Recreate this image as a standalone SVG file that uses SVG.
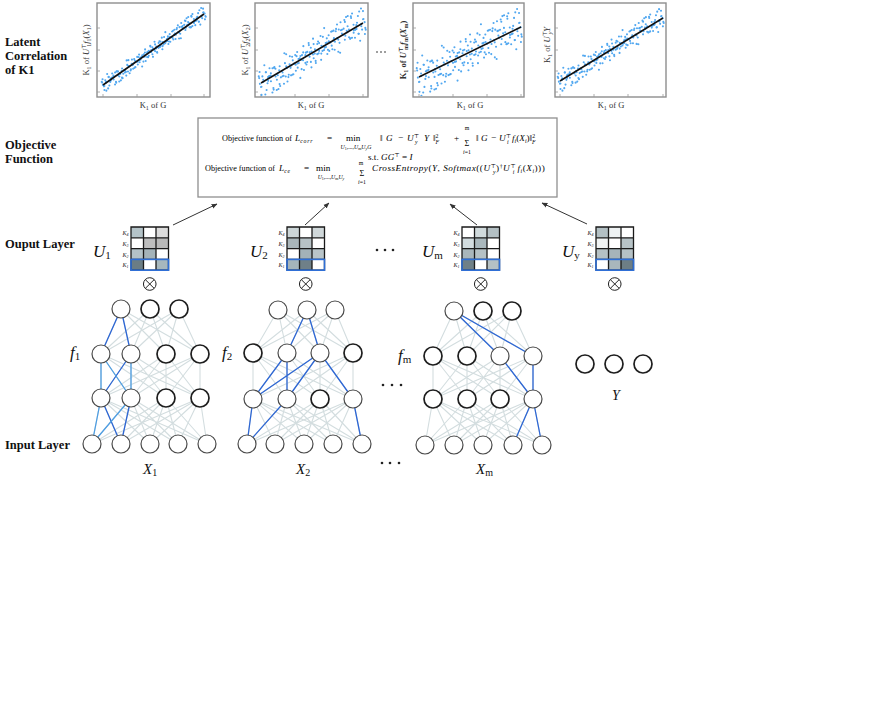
<svg xmlns="http://www.w3.org/2000/svg" xmlns:xlink="http://www.w3.org/1999/xlink" width="895" height="722" viewBox="0 0 895 722">
<style>
.lbl{font-family:"Liberation Serif",serif;font-weight:bold;font-size:12.5px;fill:#111}
.m{font-family:"Liberation Serif","DejaVu Serif",serif;font-size:8.2px;fill:#000}
.mx{font-size:9.2px}
.ax{font-family:"Liberation Serif","DejaVu Serif",serif;font-size:8.5px;fill:#333}
.i{font-style:italic}
.s{font-size:5.8px}
.ss{font-size:6px}
.v{font-family:"Liberation Serif","DejaVu Serif",serif;font-style:italic;fill:#111}
.sub{font-style:normal}
.kl{font-family:"Liberation Serif",serif;font-style:italic;font-size:6px;fill:#222}
.g{stroke:#d3dddf;stroke-width:1.1;fill:none}
.b{stroke:#2e67d4;stroke-width:1.3;fill:none}
.bl{stroke:#4f9ee2;stroke-width:1.3;fill:none}
.n{fill:#fff;stroke:#4a4a4a;stroke-width:1.2}
.nd{fill:#fff;stroke:#1e1e1e;stroke-width:1.7}
.frame{fill:#fff;stroke:#8e8e8e;stroke-width:1.4}
.tick{stroke:#999;stroke-width:0.8}
.reg{stroke:#111;stroke-width:1.6}
.grid{fill:none;stroke:#1a1a1a;stroke-width:1.3}
.k1{fill:none;stroke:#2f6fd6;stroke-width:1.6}
.ot{fill:#fff;stroke:#222;stroke-width:1}
.arr{stroke:#333;stroke-width:1;marker-end:url(#ah)}
.dot{fill:#222}
.cl{fill:none;stroke:#52a8f0;stroke-width:2.1;stroke-linecap:round}
</style>
<defs>
<marker id="ah" viewBox="0 0 10 10" refX="9" refY="5" markerWidth="6" markerHeight="6" orient="auto"><path d="M0 1L10 5L0 9z" fill="#333"/></marker>
<path id="cloud" vector-effect="non-scaling-stroke" d="M0.7 -4h0M1.1 -3h0M2.8 2h0M3.2 2h0M4.8 -1h0M5.1 8h0M6.8 7h0M7.2 -4h0M8.8 2h0M9.4 1h0M10.5 -1h0M11.9 -2h0M12 2h0M13.4 -4h0M14.5 7h0M15.2 -4h0M16.3 1h0M17.5 3h0M18.3 1h0M19.6 -1h0M20 6h0M21.2 3h0M22.8 3h0M23.7 3h0M24.4 -8h0M25.7 4h0M26.1 -7h0M27.3 7h0M28.5 4h0M29.2 -1h0M30.6 5h0M31.6 -4h0M32.2 -2h0M33.4 0h0M34.9 1h0M35.7 -3h0M36.7 1h0M37.5 -1h0M38.7 -1h0M39.2 9h0M40.4 5h0M41.7 1h0M42 -6h0M43.9 3h0M44.3 -2h0M45.6 -2h0M46.9 -6h0M47.9 -1h0M48.9 -3h0M49.5 7h0M50.9 1h0M51.5 -4h0M52.7 -1h0M53.4 5h0M54.9 -3h0M55.6 -4h0M56.6 1h0M57.9 -6h0M58.6 3h0M59.7 2h0M60.6 0h0M61.2 2h0M62.7 -1h0M63.7 -3h0M64.2 5h0M65.4 -4h0M66 4h0M67.7 -5h0M68.6 -5h0M69.6 0h0M70.3 -1h0M71 5h0M72.3 -5h0M73.5 0h0M74.3 1h0M75.5 3h0M76.4 -7h0M77.7 -1h0M78.5 0h0M79.9 -7h0M80.4 3h0M81.5 -8h0M82.7 0h0M83.1 -8h0M84.3 3h0M85.8 4h0M86.2 -6h0M87.1 -8h0M88.7 1h0M89.8 5h0M90.5 1h0M91.2 1h0M92.5 -5h0M93.1 4h0M94.6 8h0M95.6 0h0M96.4 3h0M97.2 -6h0M98.7 0h0M99 6h0"/>
<clipPath id="c1"><rect x="98" y="4" width="111" height="92"/></clipPath>
<clipPath id="c2"><rect x="256" y="4" width="111" height="92"/></clipPath>
<clipPath id="c3"><rect x="414" y="4" width="109" height="92"/></clipPath>
<clipPath id="c4"><rect x="556" y="4" width="109" height="92"/></clipPath>
</defs>
<rect width="895" height="722" fill="#fff"/>

<!-- left labels -->
<g id="labels">
<text class="lbl" x="5" y="46">Latent</text>
<text class="lbl" x="5" y="60">Correlation</text>
<text class="lbl" x="5" y="74">of K1</text>
<text class="lbl" x="5" y="149">Objective</text>
<text class="lbl" x="5" y="163">Function</text>
<text class="lbl" x="5" y="248">Ouput Layer</text>
<text class="lbl" x="5" y="449">Input Layer</text>
</g>

<!-- scatter plots -->
<g id="plot1">
<rect class="frame" x="97" y="3" width="113" height="94"/>
<path class="tick" d="M97 28h3M97 50h3M97 71h3M97 92h3M103 97v-3M137 97v-3M171 97v-3M204 97v-3"/>
<g clip-path="url(#c1)" class="cl">
<use xlink:href="#cloud" transform="matrix(1.05,-0.738,0,1,101,86.4)"/>
<use xlink:href="#cloud" transform="matrix(-1.05,0.738,0,-1,206.5,12.2)"/>
</g>
<line class="reg" x1="103" y1="85" x2="204" y2="14"/>
<text class="ax" transform="translate(89,50) rotate(-90)" text-anchor="middle">K<tspan class="ss" dy="1.5">1</tspan><tspan dy="-1.5">  of  </tspan><tspan class="i">U</tspan><tspan class="ss" dy="-3">⊤</tspan><tspan class="ss" dx="-3.5" dy="4.5">1</tspan><tspan class="i" dy="-1.5">f</tspan><tspan class="ss" dy="1.5">1</tspan><tspan dy="-1.5">(</tspan><tspan class="i">X</tspan><tspan class="ss" dy="1.5">1</tspan><tspan dy="-1.5">)</tspan></text>
<text class="ax" x="153" y="108" text-anchor="middle">K<tspan class="ss" dy="1.5">1</tspan><tspan dy="-1.5">  of  G</tspan></text>
</g>
<g id="plot2">
<rect class="frame" x="255" y="3" width="113" height="94"/>
<path class="tick" d="M255 28h3M255 50h3M255 71h3M255 92h3M261 97v-3M295 97v-3M329 97v-3M363 97v-3"/>
<g clip-path="url(#c2)" class="cl">
<use xlink:href="#cloud" transform="matrix(1.08,-0.635,0,2,258,84.8)"/>
<use xlink:href="#cloud" transform="matrix(-1.08,0.635,0,-2,366.5,21.2)"/>
</g>
<line class="reg" x1="261" y1="83" x2="363" y2="23"/>
<text class="ax" transform="translate(248,50) rotate(-90)" text-anchor="middle">K<tspan class="ss" dy="1.5">1</tspan><tspan dy="-1.5">  of  </tspan><tspan class="i">U</tspan><tspan class="ss" dy="-3">⊤</tspan><tspan class="ss" dx="-3.5" dy="4.5">2</tspan><tspan class="i" dy="-1.5">f</tspan><tspan class="ss" dy="1.5">2</tspan><tspan dy="-1.5">(</tspan><tspan class="i">X</tspan><tspan class="ss" dy="1.5">2</tspan><tspan dy="-1.5">)</tspan></text>
<text class="ax" x="311" y="108" text-anchor="middle">K<tspan class="ss" dy="1.5">1</tspan><tspan dy="-1.5">  of  G</tspan></text>
</g>
<g id="dots-top">
<circle class="dot" cx="377" cy="52" r="0.8"/><circle class="dot" cx="381" cy="52" r="0.8"/><circle class="dot" cx="385" cy="52" r="0.8"/>
</g>
<g id="plot3">
<rect class="frame" x="413" y="3" width="111" height="94"/>
<path class="tick" d="M413 28h3M413 50h3M413 71h3M413 92h3M419 97v-3M453 97v-3M487 97v-3M521 97v-3"/>
<g clip-path="url(#c3)" class="cl">
<use xlink:href="#cloud" transform="matrix(1.06,-0.52,0,2.5,416,78.5)"/>
<use xlink:href="#cloud" transform="matrix(-1.06,0.52,0,-2.5,522.5,26.3)"/>
</g>
<line class="reg" x1="419" y1="77" x2="521" y2="27"/>
<text class="ax" transform="translate(406,50) rotate(-90)" text-anchor="middle" font-weight="bold">K<tspan class="ss" dy="1.5">1</tspan><tspan dy="-1.5">  of  </tspan><tspan class="i">U</tspan><tspan class="ss" dy="-3">⊤</tspan><tspan class="ss" dx="-3.5" dy="4.5">m</tspan><tspan class="i" dy="-1.5">f</tspan><tspan class="ss" dy="1.5">m</tspan><tspan dy="-1.5">(</tspan><tspan class="i">X</tspan><tspan class="ss" dy="1.5">m</tspan><tspan dy="-1.5">)</tspan></text>
<text class="ax" x="470" y="108" text-anchor="middle">K<tspan class="ss" dy="1.5">1</tspan><tspan dy="-1.5">  of  G</tspan></text>
</g>
<g id="plot4">
<rect class="frame" x="555" y="3" width="111" height="94"/>
<path class="tick" d="M555 28h3M555 50h3M555 71h3M555 92h3M560 97v-3M594 97v-3M628 97v-3M663 97v-3"/>
<g clip-path="url(#c4)" class="cl">
<use xlink:href="#cloud" transform="matrix(1.07,-0.655,0,1.4,557,82.8)"/>
<use xlink:href="#cloud" transform="matrix(-1.07,0.655,0,-1.4,664.5,17)"/>
</g>
<line class="reg" x1="560" y1="81" x2="663" y2="18"/>
<text class="ax" transform="translate(550,45) rotate(-90)" text-anchor="middle">K<tspan class="ss" dy="1.5">1</tspan><tspan dy="-1.5">  of  </tspan><tspan class="i">U</tspan><tspan class="ss" dy="-3">⊤</tspan><tspan class="ss i" dx="-3.5" dy="4.5">y</tspan><tspan class="i" dy="-1.5">Y</tspan></text>
<text class="ax" x="611" y="108" text-anchor="middle">K<tspan class="ss" dy="1.5">1</tspan><tspan dy="-1.5">  of  G</tspan></text>
</g>

<!-- objective box -->
<g id="objective">
<rect x="198" y="118" width="359" height="79" fill="#fff" stroke="#8f8f8f" stroke-width="1.3"/>
<text class="m" x="222" y="141">Objective function of <tspan class="i mx" x="295">L</tspan><tspan class="s i" dy="1.5" letter-spacing="0.8">corr</tspan><tspan class="mx" dy="-1.5" x="327">=</tspan><tspan class="mx" x="346">min</tspan></text>
<text class="m s" x="356" y="149" text-anchor="middle"><tspan class="i">U</tspan><tspan font-size="4" dy="1">1</tspan><tspan dy="-1">,...,</tspan><tspan class="i">U</tspan><tspan font-size="4" dy="1">m</tspan><tspan class="i" dy="-1">U</tspan><tspan font-size="4" dy="1" class="i">y</tspan><tspan class="i" dy="-1">G</tspan></text>
<text class="m mx" x="380" y="141">‖<tspan class="i" x="386">G</tspan><tspan x="398">−</tspan><tspan class="i" x="407">U</tspan><tspan class="s" dy="-3.5">⊤</tspan><tspan class="s i" dx="-4" dy="6">y</tspan><tspan class="i" x="424" dy="-2.5">Y</tspan><tspan x="433">‖</tspan><tspan class="s" dy="-3.5">2</tspan><tspan class="s i" dx="-3" dy="6">F</tspan><tspan x="454" dy="-2.5">+</tspan></text>
<text class="m" x="467" y="146" text-anchor="middle" font-size="13">Σ</text>
<text class="m s" x="467" y="130" text-anchor="middle">m</text>
<text class="m s" x="467" y="154" text-anchor="middle"><tspan class="i">i</tspan>=1</text>
<text class="m mx" x="476" y="141">‖<tspan class="i" x="481">G</tspan><tspan x="491">−</tspan><tspan class="i" x="499">U</tspan><tspan class="s" dy="-3.5">⊤</tspan><tspan class="s i" dx="-4" dy="6">i</tspan><tspan class="i" x="512" dy="-2.5">f</tspan><tspan class="s i" dy="1.5">i</tspan><tspan dy="-1.5">(</tspan><tspan class="i">X</tspan><tspan class="s i" dy="1.5">i</tspan><tspan dy="-1.5">)‖</tspan><tspan class="s" dy="-3.5">2</tspan><tspan class="s i" dx="-3" dy="6">F</tspan></text>
<text class="m mx" x="368" y="160">s.t. <tspan class="i">GG</tspan><tspan class="s" dy="-3.5">⊤</tspan><tspan dy="3.5"> = </tspan><tspan class="i">I</tspan></text>
<text class="m" x="205" y="171">Objective function of <tspan class="i mx" x="279">L</tspan><tspan class="s i" dy="1.5" letter-spacing="0.8">ce</tspan><tspan class="mx" dy="-1.5" x="304">=</tspan><tspan class="mx" x="316">min</tspan></text>
<text class="m s" x="331" y="179" text-anchor="middle"><tspan class="i">U</tspan><tspan font-size="4" dy="1">1</tspan><tspan dy="-1">,...,</tspan><tspan class="i">U</tspan><tspan font-size="4" dy="1">m</tspan><tspan class="i" dy="-1">U</tspan><tspan font-size="4" dy="1" class="i">y</tspan></text>
<text class="m" x="362" y="176" text-anchor="middle" font-size="13">Σ</text>
<text class="m s" x="361" y="165" text-anchor="middle">m</text>
<text class="m s" x="362" y="184" text-anchor="middle"><tspan class="i">i</tspan>=1</text>
<text class="m mx" x="372" y="171" letter-spacing="0.5"><tspan class="i">CrossEntropy</tspan>(<tspan class="i">Y</tspan>, <tspan class="i">Softmax</tspan>((<tspan class="i">U</tspan><tspan class="s" dy="-3">⊤</tspan><tspan class="s i" dx="-3.5" dy="5.5">y</tspan><tspan dy="-2.5">)</tspan><tspan class="s" dy="-3">†</tspan><tspan class="i" dy="3">U</tspan><tspan class="s" dy="-3">⊤</tspan><tspan class="s i" dx="-3.5" dy="5.5">i</tspan><tspan class="i" dy="-2.5"> f</tspan><tspan class="s i" dy="1.5">i</tspan><tspan dy="-1.5">(</tspan><tspan class="i">X</tspan><tspan class="s i" dy="1.5">i</tspan><tspan dy="-1.5">)))</tspan></text>
</g>

<!-- connectors -->
<g id="connectors">
<line class="arr" x1="173" y1="225" x2="217" y2="204"/>
<line class="arr" x1="305" y1="225" x2="329" y2="203"/>
<line class="arr" x1="477" y1="225" x2="450" y2="204"/>
<line class="arr" x1="587" y1="224" x2="542" y2="203"/>
<!-- network 1 gray -->
<path class="g" d="M121 309L101 354M121 309L131 354M121 309L166 354M121 309L200 354M150 309L101 354M150 309L131 354M150 309L166 354M150 309L200 354M179 309L101 354M179 309L131 354M179 309L166 354M179 309L200 354
M101 354L101 398M101 354L131 398M101 354L166 398M101 354L200 398M131 354L101 398M131 354L131 398M131 354L166 398M131 354L200 398M166 354L101 398M166 354L131 398M166 354L166 398M166 354L200 398M200 354L101 398M200 354L131 398M200 354L166 398M200 354L200 398
M101 398L92 444M101 398L121 444M101 398L150 444M101 398L178 444M101 398L207 444M131 398L92 444M131 398L121 444M131 398L150 444M131 398L178 444M131 398L207 444M166 398L92 444M166 398L121 444M166 398L150 444M166 398L178 444M166 398L207 444M200 398L92 444M200 398L121 444M200 398L150 444M200 398L178 444M200 398L207 444"/>
<!-- network 2 gray -->
<path class="g" d="M278 310L253 353M278 310L287 353M278 310L320 353M278 310L353 353M307 310L253 353M307 310L287 353M307 310L320 353M307 310L353 353M335 310L253 353M335 310L287 353M335 310L320 353M335 310L353 353
M253 353L253 399M253 353L287 399M253 353L320 399M253 353L353 399M287 353L253 399M287 353L287 399M287 353L320 399M287 353L353 399M320 353L253 399M320 353L287 399M320 353L320 399M320 353L353 399M353 353L253 399M353 353L287 399M353 353L320 399M353 353L353 399
M253 399L247 444M253 399L275 444M253 399L304 444M253 399L333 444M253 399L362 444M287 399L247 444M287 399L275 444M287 399L304 444M287 399L333 444M287 399L362 444M320 399L247 444M320 399L275 444M320 399L304 444M320 399L333 444M320 399L362 444M353 399L247 444M353 399L275 444M353 399L304 444M353 399L333 444M353 399L362 444"/>
<!-- network 3 gray -->
<path class="g" d="M454 311L433 356M454 311L467 356M454 311L500 356M454 311L533 356M483 311L433 356M483 311L467 356M483 311L500 356M483 311L533 356M512 311L433 356M512 311L467 356M512 311L500 356M512 311L533 356
M433 356L433 399M433 356L467 399M433 356L500 399M433 356L533 399M467 356L433 399M467 356L467 399M467 356L500 399M467 356L533 399M500 356L433 399M500 356L467 399M500 356L500 399M500 356L533 399M533 356L433 399M533 356L467 399M533 356L500 399M533 356L533 399
M433 399L425 445M433 399L454 445M433 399L483 445M433 399L513 445M433 399L542 445M467 399L425 445M467 399L454 445M467 399L483 445M467 399L513 445M467 399L542 445M500 399L425 445M500 399L454 445M500 399L483 445M500 399L513 445M500 399L542 445M533 399L425 445M533 399L454 445M533 399L483 445M533 399L513 445M533 399L542 445"/>
<!-- highlighted -->
<path class="b" d="M121 309L101 354M121 309L131 354M131 354L101 398M101 398L121 444M131 398L121 444"/>
<path class="bl" d="M101 354L101 398M101 354L131 398M131 354L131 398M101 398L92 444M131 398L92 444"/>
<path class="b" d="M307 310L287 353M307 310L320 353M287 353L253 399M287 353L287 399M320 353L253 399M320 353L287 399M320 353L353 399M253 399L247 444M287 399L247 444M353 399L362 444"/>
<path class="b" d="M454 311L500 356M454 311L533 356M500 356L533 399M533 356L533 399M533 399L513 445M533 399L542 445"/>
</g>

<!-- output matrices -->
<g id="U1" transform="translate(131,227)">
<rect x="0" y="0" width="12.5" height="10.8" fill="#b4c3c8"/><rect x="12.5" y="0" width="12.5" height="10.8" fill="#fff"/><rect x="25" y="0" width="12.5" height="10.8" fill="#dcdcdc"/>
<rect x="0" y="10.8" width="12.5" height="10.8" fill="#fff"/><rect x="12.5" y="10.8" width="12.5" height="10.8" fill="#bebebe"/><rect x="25" y="10.8" width="12.5" height="10.8" fill="#b9b9b9"/>
<rect x="0" y="21.6" width="12.5" height="10.8" fill="#b3c2c7"/><rect x="12.5" y="21.6" width="12.5" height="10.8" fill="#a4b3b9"/><rect x="25" y="21.6" width="12.5" height="10.8" fill="#fff"/>
<rect x="0" y="32.4" width="12.5" height="10.8" fill="#6b7d85"/><rect x="12.5" y="32.4" width="12.5" height="10.8" fill="#fff"/><rect x="25" y="32.4" width="12.5" height="10.8" fill="#a7b8be"/>
<path class="grid" d="M0 0H37.5V43.2H0ZM12.5 0V43.2M25 0V43.2M0 10.8H37.5M0 21.6H37.5M0 32.4H37.5"/>
<rect class="k1" x="0" y="32.4" width="37.5" height="10.8"/>
<text class="kl" x="-2.5" y="8" text-anchor="end">K<tspan font-size="4" dy="1">4</tspan></text>
<text class="kl" x="-2.5" y="18.8" text-anchor="end">K<tspan font-size="4" dy="1">3</tspan></text>
<text class="kl" x="-2.5" y="29.6" text-anchor="end">K<tspan font-size="4" dy="1">2</tspan></text>
<text class="kl" x="-2.5" y="40.4" text-anchor="end">K<tspan font-size="4" dy="1">1</tspan></text>
<text class="v" x="-38" y="30" font-size="17">U<tspan class="sub" font-size="11" dy="2">1</tspan></text>
<circle class="ot" cx="18.75" cy="57" r="6.3"/><path d="M14.3 52.6L23.2 61.4M23.2 52.6L14.3 61.4" stroke="#222" stroke-width="1"/>
</g>
<g id="U2" transform="translate(287,227)">
<rect x="0" y="0" width="12.5" height="10.8" fill="#ccd6d8"/><rect x="12.5" y="0" width="12.5" height="10.8" fill="#fff"/><rect x="25" y="0" width="12.5" height="10.8" fill="#d0d8da"/>
<rect x="0" y="10.8" width="12.5" height="10.8" fill="#a9b6bb"/><rect x="12.5" y="10.8" width="12.5" height="10.8" fill="#b7c2c6"/><rect x="25" y="10.8" width="12.5" height="10.8" fill="#fff"/>
<rect x="0" y="21.6" width="12.5" height="10.8" fill="#fff"/><rect x="12.5" y="21.6" width="12.5" height="10.8" fill="#a3b2b8"/><rect x="25" y="21.6" width="12.5" height="10.8" fill="#b9c5c9"/>
<rect x="0" y="32.4" width="12.5" height="10.8" fill="#a5b5bb"/><rect x="12.5" y="32.4" width="12.5" height="10.8" fill="#6f8088"/><rect x="25" y="32.4" width="12.5" height="10.8" fill="#fff"/>
<path class="grid" d="M0 0H37.5V43.2H0ZM12.5 0V43.2M25 0V43.2M0 10.8H37.5M0 21.6H37.5M0 32.4H37.5"/>
<rect class="k1" x="0" y="32.4" width="37.5" height="10.8"/>
<text class="kl" x="-2.5" y="8" text-anchor="end">K<tspan font-size="4" dy="1">4</tspan></text>
<text class="kl" x="-2.5" y="18.8" text-anchor="end">K<tspan font-size="4" dy="1">3</tspan></text>
<text class="kl" x="-2.5" y="29.6" text-anchor="end">K<tspan font-size="4" dy="1">2</tspan></text>
<text class="kl" x="-2.5" y="40.4" text-anchor="end">K<tspan font-size="4" dy="1">1</tspan></text>
<text class="v" x="-37" y="30" font-size="17">U<tspan class="sub" font-size="11" dy="2">2</tspan></text>
<circle class="ot" cx="18.75" cy="57" r="6.3"/><path d="M14.3 52.6L23.2 61.4M23.2 52.6L14.3 61.4" stroke="#222" stroke-width="1"/>
</g>
<g id="dots-mid">
<circle class="dot" cx="377" cy="250" r="1.3"/><circle class="dot" cx="385" cy="250" r="1.3"/><circle class="dot" cx="393" cy="250" r="1.3"/>
</g>
<g id="Um" transform="translate(462,227)">
<rect x="0" y="0" width="12.5" height="10.8" fill="#fff"/><rect x="12.5" y="0" width="12.5" height="10.8" fill="#d0dadc"/><rect x="25" y="0" width="12.5" height="10.8" fill="#b4c0c4"/>
<rect x="0" y="10.8" width="12.5" height="10.8" fill="#d3dde0"/><rect x="12.5" y="10.8" width="12.5" height="10.8" fill="#aab8bd"/><rect x="25" y="10.8" width="12.5" height="10.8" fill="#fff"/>
<rect x="0" y="21.6" width="12.5" height="10.8" fill="#a9b6bb"/><rect x="12.5" y="21.6" width="12.5" height="10.8" fill="#b5c1c5"/><rect x="25" y="21.6" width="12.5" height="10.8" fill="#fff"/>
<rect x="0" y="32.4" width="12.5" height="10.8" fill="#6f8088"/><rect x="12.5" y="32.4" width="12.5" height="10.8" fill="#fff"/><rect x="25" y="32.4" width="12.5" height="10.8" fill="#b5c1c5"/>
<path class="grid" d="M0 0H37.5V43.2H0ZM12.5 0V43.2M25 0V43.2M0 10.8H37.5M0 21.6H37.5M0 32.4H37.5"/>
<rect class="k1" x="0" y="32.4" width="37.5" height="10.8"/>
<text class="kl" x="-2.5" y="8" text-anchor="end">K<tspan font-size="4" dy="1">4</tspan></text>
<text class="kl" x="-2.5" y="18.8" text-anchor="end">K<tspan font-size="4" dy="1">3</tspan></text>
<text class="kl" x="-2.5" y="29.6" text-anchor="end">K<tspan font-size="4" dy="1">2</tspan></text>
<text class="kl" x="-2.5" y="40.4" text-anchor="end">K<tspan font-size="4" dy="1">1</tspan></text>
<text class="v" x="-40" y="30" font-size="17">U<tspan class="sub" font-size="11" dy="2">m</tspan></text>
<circle class="ot" cx="18.75" cy="57" r="6.3"/><path d="M14.3 52.6L23.2 61.4M23.2 52.6L14.3 61.4" stroke="#222" stroke-width="1"/>
</g>
<g id="Uy" transform="translate(596,227)">
<rect x="0" y="0" width="12.5" height="10.8" fill="#b3c0c4"/><rect x="12.5" y="0" width="12.5" height="10.8" fill="#eef2f3"/><rect x="25" y="0" width="12.5" height="10.8" fill="#fff"/>
<rect x="0" y="10.8" width="12.5" height="10.8" fill="#f0f3f4"/><rect x="12.5" y="10.8" width="12.5" height="10.8" fill="#fff"/><rect x="25" y="10.8" width="12.5" height="10.8" fill="#b7c3c7"/>
<rect x="0" y="21.6" width="12.5" height="10.8" fill="#b5c1c5"/><rect x="12.5" y="21.6" width="12.5" height="10.8" fill="#a6b4ba"/><rect x="25" y="21.6" width="12.5" height="10.8" fill="#b5c1c5"/>
<rect x="0" y="32.4" width="12.5" height="10.8" fill="#fff"/><rect x="12.5" y="32.4" width="12.5" height="10.8" fill="#a9b7bc"/><rect x="25" y="32.4" width="12.5" height="10.8" fill="#6d7e85"/>
<path class="grid" d="M0 0H37.5V43.2H0ZM12.5 0V43.2M25 0V43.2M0 10.8H37.5M0 21.6H37.5M0 32.4H37.5"/>
<rect class="k1" x="0" y="32.4" width="37.5" height="10.8"/>
<text class="kl" x="-2.5" y="8" text-anchor="end">K<tspan font-size="4" dy="1">4</tspan></text>
<text class="kl" x="-2.5" y="18.8" text-anchor="end">K<tspan font-size="4" dy="1">3</tspan></text>
<text class="kl" x="-2.5" y="29.6" text-anchor="end">K<tspan font-size="4" dy="1">2</tspan></text>
<text class="kl" x="-2.5" y="40.4" text-anchor="end">K<tspan font-size="4" dy="1">1</tspan></text>
<text class="v" x="-34" y="30" font-size="17">U<tspan class="sub" font-size="11" dy="2">y</tspan></text>
<circle class="ot" cx="18.75" cy="57" r="6.3"/><path d="M14.3 52.6L23.2 61.4M23.2 52.6L14.3 61.4" stroke="#222" stroke-width="1"/>
</g>

<!-- networks -->
<g id="net1">
<circle class="n" cx="121" cy="309" r="9"/><circle class="nd" cx="150" cy="309" r="9"/><circle class="nd" cx="179" cy="309" r="9"/>
<circle class="n" cx="101" cy="354" r="9"/><circle class="n" cx="131" cy="354" r="9"/><circle class="nd" cx="166" cy="354" r="9"/><circle class="nd" cx="200" cy="354" r="9"/>
<circle class="n" cx="101" cy="398" r="9"/><circle class="n" cx="131" cy="398" r="9"/><circle class="nd" cx="166" cy="398" r="9"/><circle class="nd" cx="200" cy="398" r="9"/>
<circle class="n" cx="92" cy="444" r="9"/><circle class="n" cx="121" cy="444" r="9"/><circle class="n" cx="150" cy="444" r="9"/><circle class="n" cx="178" cy="444" r="9"/><circle class="n" cx="207" cy="444" r="9"/>
<text class="v" x="70" y="358" font-size="17">f<tspan class="sub" font-size="11" dy="2">1</tspan></text>
<text class="v" x="143" y="474" font-size="15">X<tspan class="sub" font-size="10" dy="2">1</tspan></text>
</g>
<g id="net2">
<circle class="n" cx="278" cy="310" r="9"/><circle class="n" cx="307" cy="310" r="9"/><circle class="n" cx="335" cy="310" r="9"/>
<circle class="nd" cx="253" cy="353" r="9"/><circle class="n" cx="287" cy="353" r="9"/><circle class="n" cx="320" cy="353" r="9"/><circle class="nd" cx="353" cy="353" r="9"/>
<circle class="n" cx="253" cy="399" r="9"/><circle class="n" cx="287" cy="399" r="9"/><circle class="nd" cx="320" cy="399" r="9"/><circle class="n" cx="353" cy="399" r="9"/>
<circle class="n" cx="247" cy="444" r="9"/><circle class="n" cx="275" cy="444" r="9"/><circle class="n" cx="304" cy="444" r="9"/><circle class="n" cx="333" cy="444" r="9"/><circle class="n" cx="362" cy="444" r="9"/>
<text class="v" x="222" y="358" font-size="17">f<tspan class="sub" font-size="11" dy="2">2</tspan></text>
<text class="v" x="296" y="474" font-size="15">X<tspan class="sub" font-size="10" dy="2">2</tspan></text>
</g>
<g id="dots-net">
<circle class="dot" cx="383" cy="385" r="1.3"/><circle class="dot" cx="392" cy="385" r="1.3"/><circle class="dot" cx="401" cy="385" r="1.3"/>
<circle class="dot" cx="382" cy="463" r="1.3"/><circle class="dot" cx="390" cy="463" r="1.3"/><circle class="dot" cx="399" cy="463" r="1.3"/>
</g>
<g id="net3">
<circle class="n" cx="454" cy="311" r="9"/><circle class="nd" cx="483" cy="311" r="9"/><circle class="nd" cx="512" cy="311" r="9"/>
<circle class="nd" cx="433" cy="356" r="9"/><circle class="nd" cx="467" cy="356" r="9"/><circle class="n" cx="500" cy="356" r="9"/><circle class="n" cx="533" cy="356" r="9"/>
<circle class="nd" cx="433" cy="399" r="9"/><circle class="nd" cx="467" cy="399" r="9"/><circle class="nd" cx="500" cy="399" r="9"/><circle class="n" cx="533" cy="399" r="9"/>
<circle class="n" cx="425" cy="445" r="9"/><circle class="n" cx="454" cy="445" r="9"/><circle class="n" cx="483" cy="445" r="9"/><circle class="n" cx="513" cy="445" r="9"/><circle class="n" cx="542" cy="445" r="9"/>
<text class="v" x="398" y="361" font-size="17">f<tspan class="sub" font-size="11" dy="2">m</tspan></text>
<text class="v" x="476" y="474" font-size="15">X<tspan class="sub" font-size="10" dy="2">m</tspan></text>
</g>
<g id="Y">
<circle class="nd" cx="585" cy="364" r="9"/><circle class="nd" cx="614" cy="364" r="9"/><circle class="nd" cx="643" cy="364" r="9"/>
<text class="v" x="612" y="400" font-size="14">Y</text>
</g>
</svg>
